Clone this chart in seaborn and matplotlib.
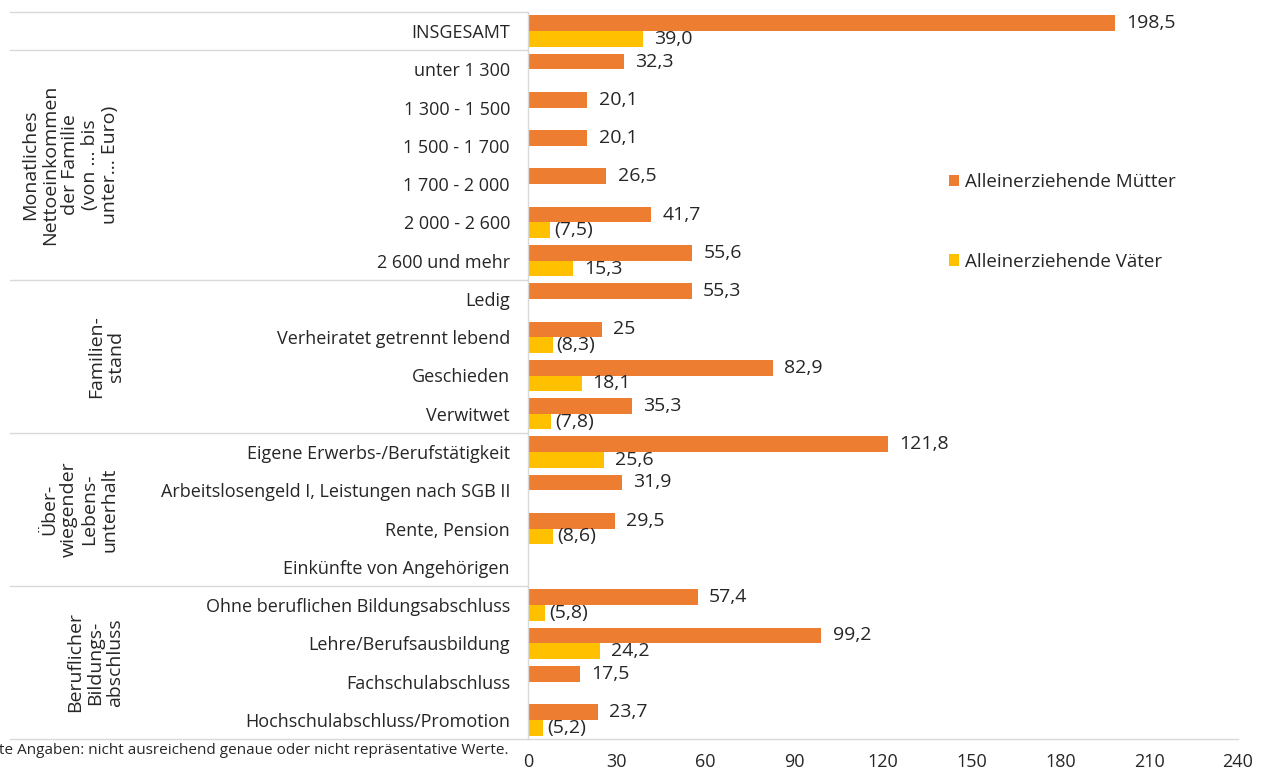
import pandas as pd
import numpy as np
import matplotlib
matplotlib.use("Agg")
import matplotlib.pyplot as plt
import matplotlib.transforms as mtransforms
from matplotlib.patches import Patch
import seaborn as sns

# === data ===
categories = [
    "INSGESAMT",
    "unter 1 300", "1 300 - 1 500", "1 500 - 1 700", "1 700 - 2 000",
    "2 000 - 2 600", "2 600 und mehr",
    "Ledig", "Verheiratet getrennt lebend", "Geschieden", "Verwitwet",
    "Eigene Erwerbs-/Berufstätigkeit", "Arbeitslosengeld I, Leistungen nach SGB II",
    "Rente, Pension", "Einkünfte von Angehörigen",
    "Ohne beruflichen Bildungsabschluss", "Lehre/Berufsausbildung",
    "Fachschulabschluss", "Hochschulabschluss/Promotion",
]
muetter = [198.5, 32.3, 20.1, 20.1, 26.5, 41.7, 55.6, 55.3, 25.0, 82.9, 35.3,
           121.8, 31.9, 29.5, np.nan, 57.4, 99.2, 17.5, 23.7]
vaeter = [39.0, np.nan, np.nan, np.nan, np.nan, 7.5, 15.3, np.nan, 8.3, 18.1, 7.8,
          25.6, np.nan, 8.6, np.nan, 5.8, 24.2, np.nan, 5.2]
muetter_labels = ["198,5", "32,3", "20,1", "20,1", "26,5", "41,7", "55,6", "55,3", "25",
                  "82,9", "35,3", "121,8", "31,9", "29,5", "", "57,4", "99,2", "17,5", "23,7"]
vaeter_labels = ["39,0", "", "", "", "", "(7,5)", "15,3", "", "(8,3)", "18,1", "(7,8)",
                 "25,6", "", "(8,6)", "", "(5,8)", "24,2", "", "(5,2)"]
series = ["Alleinerziehende Mütter", "Alleinerziehende Väter"]
groups = [
    ("Monatliches\nNettoeinkommen\nder Familie\n(von ... bis\nunter... Euro)", 1, 6),
    ("Familien-\nstand", 7, 10),
    ("Über-\nwiegender\nLebens-\nunterhalt", 11, 14),
    ("Beruflicher\nBildungs-\nabschluss", 15, 18),
]
x_ticks = [0, 30, 60, 90, 120, 150, 180, 210, 240]
footnote = "(  ) Eingeklammerte Angaben: nicht ausreichend genaue oder nicht repräsentative Werte."

colors = ["#ED7D31", "#FFC000"]
grid_col = "#D9D9D9"
text_col = "#262626"

df = pd.DataFrame({
    "Kategorie": categories * 2,
    "Wert": muetter + vaeter,
    "Gruppe": [series[0]] * len(categories) + [series[1]] * len(categories),
})

sns.set_style("white")
plt.rcParams["font.family"] = ["Open Sans", "DejaVu Sans"]
plt.rcParams["text.color"] = text_col

fig = plt.figure(figsize=(12.69, 7.69), dpi=100)
ax = fig.add_axes([528 / 1269, 1 - 739 / 769, 710 / 1269, 727 / 769])

sns.barplot(data=df, y="Kategorie", x="Wert", hue="Gruppe", order=categories,
            hue_order=series, palette=colors, orient="h", width=0.82,
            errorbar=None, legend=False, ax=ax, saturation=1, linewidth=0)

ax.set_xlim(0, 240)
ax.set_ylim(len(categories) - 0.5, -0.5)
ax.set_xticks(x_ticks)
ax.set_xticklabels([str(t) for t in x_ticks], fontsize=13, color=text_col)
ax.set_xlabel("")
ax.set_ylabel("")
ax.tick_params(axis="y", length=0, pad=13, labelsize=13, labelcolor=text_col)
ax.tick_params(axis="x", length=6, width=1, color=grid_col, direction="out", pad=4)
for s in ["top", "right"]:
    ax.spines[s].set_visible(False)
for s in ["left", "bottom"]:
    ax.spines[s].set_color(grid_col)
    ax.spines[s].set_linewidth(1)

# data labels
for i, (v, lab) in enumerate(zip(muetter, muetter_labels)):
    if lab:
        ax.annotate(lab, (v, i - 0.205), xytext=(8, 0), textcoords="offset points",
                    va="center", ha="left", fontsize=14)
for i, (v, lab) in enumerate(zip(vaeter, vaeter_labels)):
    if lab:
        ax.annotate(lab, (v, i + 0.205), xytext=(8 if lab[0] != "(" else 3, 0),
                    textcoords="offset points", va="center", ha="left", fontsize=14)

# group separators and labels
trans = mtransforms.blended_transform_factory(ax.transAxes, ax.transData)
left_edge = (10 - 528) / 710
for yb in [-0.5, 0.5, 6.5, 10.5, 14.5, 18.5]:
    ax.plot([left_edge, 0], [yb, yb], color=grid_col, lw=1, transform=trans, clip_on=False)
group_x = [70, 106, 79, 95]
for (txt, a, b), gx in zip(groups, group_x):
    ax.text((gx - 528) / 710, (a + b) / 2, txt, transform=trans, rotation=90,
            ha="center", va="center", multialignment="center", fontsize=14,
            linespacing=1.15)

# legend
handles = [Patch(facecolor=c, edgecolor="none") for c in colors]
ax.legend(handles, series, loc="upper left", bbox_to_anchor=(0.582, 0.789),
          frameon=False, fontsize=13.5, handlelength=0.55, handleheight=0.55,
          handletextpad=0.3, labelspacing=3.3, borderaxespad=0)

fig.text(508 / 1269, 1 - 751 / 769, footnote, ha="right", va="center", fontsize=11)

fig.savefig("out.png", dpi=100)
